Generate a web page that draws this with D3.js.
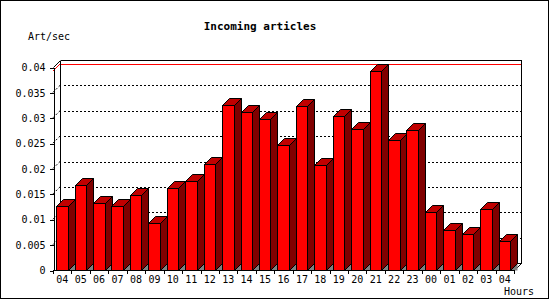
<!DOCTYPE html>
<html><head><meta charset="utf-8">
<script src="https://cdn.jsdelivr.net/npm/d3@7"></script>
<style>
html,body{margin:0;padding:0;background:#fff;}
svg{display:block;}
text{font-family:"DejaVu Sans Mono",monospace;fill:#000;}
</style></head>
<body>
<svg id="c" width="550" height="300"></svg>
<script>
const hours = ["04","05","06","07","08","09","10","11","12","13","14","15","16","17","18","19","20","21","22","23","00","01","02","03","04"];
const rates = [0.0126,0.01675,0.01314,0.0126,0.01471,0.0092,0.01616,0.01747,0.02089,0.03251,0.03113,0.02975,0.02463,0.03232,0.02069,0.03034,0.02778,0.03921,0.02562,0.02759,0.01143,0.00788,0.00709,0.01196,0.00571];
const yTicks = [0,0.005,0.01,0.015,0.02,0.025,0.03,0.035,0.04];
const title = "Incoming articles";
const yTitle = "Art/sec";
const xTitle = "Hours";

const svg = d3.select("#c");
const D = 7; // 3d depth
const x = d3.scaleBand().domain(d3.range(hours.length)).range([53, 514]);
const y = d3.scaleLinear().domain([0, 0.04]).range([270, 67]);
const r = v => Math.round(v) + 0.5;

// outer border
svg.append("rect").attr("x",0.5).attr("y",0.5).attr("width",548).attr("height",298)
  .attr("fill","#fff").attr("stroke","#000").attr("shape-rendering","crispEdges");

svg.append("text").attr("x",260).attr("y",27).attr("text-anchor","middle").attr("dominant-baseline","middle")
  .style("font-size","11px").style("font-weight","bold").text(title);
svg.append("text").attr("x",28).attr("y",37).attr("dominant-baseline","middle")
  .style("font-size","10px").text(yTitle);
svg.append("text").attr("x",534).attr("y",292).attr("text-anchor","end").attr("dominant-baseline","middle")
  .style("font-size","10px").text(xTitle);

const x0 = 53, x1 = 514, yb = 270, yt = y(0.04);
const g = svg.append("g");
const line = (a,b,c,d,col,dash) => g.append("line").attr("x1",a).attr("y1",b).attr("x2",c).attr("y2",d)
  .attr("stroke",col||"#000").attr("stroke-width",1).attr("stroke-dasharray",dash||null);

// gridlines (back wall + left wall stubs)
yTicks.filter(v => v > 0 && v < 0.04).forEach(v => {
  const yy = r(y(v) - D);
  line(x0 + D + 4, yy, r(x1 + D) , yy, "#000", "2,2").attr("shape-rendering","crispEdges");
  line(x0, y(v), x0 + D, y(v) - D, "#000", "2,2");
});
// max line
const mx = d3.max(rates);
line(r(x0 + D), r(y(mx) - D), r(x1 + D), r(y(mx) - D), "#f00").attr("shape-rendering","crispEdges");
line(x0, y(mx), x0 + D, y(mx) - D, "#f00");

// frame
const fr = [[x0+D,yt-D,x1+D,yt-D],[x1+D,yt-D,x1+D,yb-D],[x0+D,yt-D,x0+D,yb-D],[x0+D,yb-D,x1+D,yb-D]];
fr.forEach(s => line(r(s[0]),r(s[1]),r(s[2]),r(s[3])).attr("shape-rendering","crispEdges"));
line(r(x0), r(yt), r(x0+D), r(yt-D));
line(r(x1), r(yb), r(x1+D), r(yb-D));
line(r(x0), r(yb), r(x1+D-D), r(yb)).attr("shape-rendering","crispEdges");

// bars
const bw = x.bandwidth();
const bars = svg.append("g");
rates.forEach((v,i) => {
  const xl = Math.round(x(i) + bw*0.17) + 0.5;
  const xr = Math.round(x(i) + bw*0.17 + 11.5) + 0.5;
  const ty = Math.round(y(v)) + 0.5;
  const by = yb + 0.5;
  const pts = a => a.map(p => p.join(",")).join(" ");
  bars.append("polygon").attr("points", pts([[xr,by],[xr+D,by-D],[xr+D,by]])).attr("fill","#808080").attr("stroke","none");
  bars.append("polygon").attr("points", pts([[xr,ty],[xr+D,ty-D],[xr+D,by-D],[xr,by]])).attr("fill","#800000").attr("stroke","#000");
  bars.append("polygon").attr("points", pts([[xl,ty],[xl+D,ty-D],[xr+D,ty-D],[xr,ty]])).attr("fill","#c00000").attr("stroke","#000");
  bars.append("rect").attr("x",xl).attr("y",ty).attr("width",xr-xl).attr("height",by-ty).attr("fill","#f00").attr("stroke","#000");
});
// front baseline
svg.append("line").attr("x1",x0).attr("x2",x1).attr("y1",yb+0.5).attr("y2",yb+0.5).attr("stroke","#000").attr("shape-rendering","crispEdges");

// y axis
const ya = svg.append("g").attr("transform","translate(53.5,0.5)")
  .call(d3.axisLeft(y).tickValues(yTicks).tickSize(4).tickSizeOuter(0).tickPadding(4)
    .tickFormat(d => d === 0 ? "0" : String(+d.toFixed(3))));
ya.selectAll("text").style("font-size","10px").style("font-family","DejaVu Sans Mono");
ya.selectAll("line,path").attr("shape-rendering","crispEdges");

// x ticks & labels
const xa = svg.append("g");
d3.range(hours.length + 1).forEach(i => {
  const xx = r(i < hours.length ? x(i) : x(hours.length-1) + bw);
  xa.append("line").attr("x1",xx).attr("x2",xx).attr("y1",270).attr("y2",274).attr("stroke","#000").attr("shape-rendering","crispEdges");
});
hours.forEach((h,i) => {
  xa.append("text").attr("x", x(i) + bw/2).attr("y",280).attr("text-anchor","middle").attr("dominant-baseline","middle")
    .style("font-size","10px").text(h);
});
</script>
</body></html>
